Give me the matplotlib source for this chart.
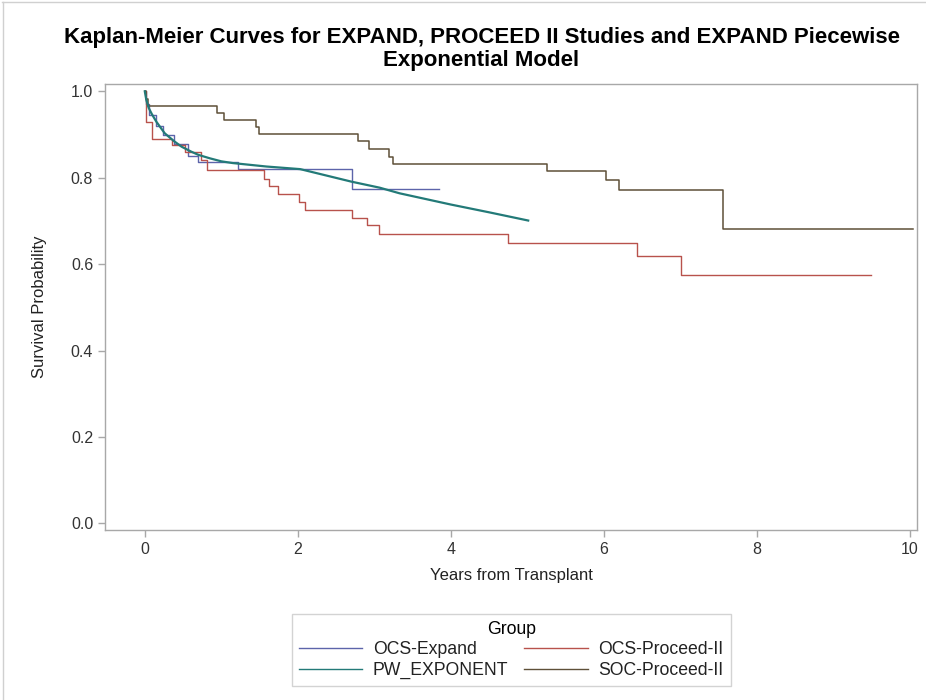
import numpy as np
import matplotlib.pyplot as plt
from matplotlib.lines import Line2D

# Kaplan-Meier step data (time in years, survival after each event)
expand_t = [0, 0.02, 0.06, 0.15, 0.24, 0.38, 0.57, 0.70, 1.22, 2.71]
expand_s = [1.0, 0.97, 0.945, 0.92, 0.90, 0.877, 0.851, 0.836, 0.82, 0.773]
expand_end = 3.85

proceed_t = [0, 0.02, 0.09, 0.36, 0.52, 0.74, 0.81, 1.56, 1.62, 1.74,
             2.01, 2.09, 2.71, 2.90, 3.06, 4.75, 6.43, 7.01]
proceed_s = [1.0, 0.929, 0.89, 0.875, 0.86, 0.84, 0.817, 0.798, 0.78, 0.763,
             0.744, 0.726, 0.708, 0.69, 0.669, 0.649, 0.619, 0.575]
proceed_end = 9.49

soc_t = [0, 0.02, 0.04, 0.94, 1.04, 1.45, 1.49, 2.78, 2.93, 3.19, 3.24,
         5.25, 6.03, 6.20, 7.55]
soc_s = [1.0, 0.983, 0.965, 0.951, 0.934, 0.917, 0.902, 0.884, 0.867, 0.849,
         0.831, 0.815, 0.794, 0.771, 0.682]
soc_end = 10.04

# piecewise exponential fit for EXPAND
pw_t = [0, 0.02, 0.05, 0.09, 0.15, 0.26, 0.38, 0.48, 0.60, 0.70, 0.85, 1.0,
        1.15, 1.59, 2.03, 2.70, 3.07, 3.33, 4.0, 4.5, 5.01]
pw_s = [1.0, 0.98, 0.962, 0.948, 0.93, 0.903, 0.885, 0.872, 0.861, 0.853,
        0.845, 0.838, 0.834, 0.826, 0.82, 0.791, 0.777, 0.764, 0.738, 0.72,
        0.701]

c_exp = '#5c64aa'
c_pro = '#b8524c'
c_pw = '#237a78'
c_soc = '#5e5038'


def km_step(ax, t, s, t_end, **kw):
    t = list(t) + [t_end]
    s = list(s) + [s[-1]]
    return ax.step(t, s, where='post', **kw)


plt.rcParams['font.family'] = ['Liberation Sans', 'DejaVu Sans']

fig = plt.figure(figsize=(9.26, 7.0), dpi=100)
ax = fig.add_axes([0.1134, 0.243, 0.8768, 0.637])

km_step(ax, expand_t, expand_s, expand_end, color=c_exp, lw=1.0)
km_step(ax, proceed_t, proceed_s, proceed_end, color=c_pro, lw=1.0)
km_step(ax, soc_t, soc_s, soc_end, color=c_soc, lw=1.1)
ax.plot(pw_t, pw_s, color=c_pw, lw=1.6)

ax.set_xlim(-0.52, 10.09)
ax.set_ylim(-0.015, 1.017)
ax.set_xticks(np.arange(0, 11, 2))
ax.set_yticks(np.arange(0, 1.01, 0.2))
ax.set_yticklabels(['{0:.1f}'.format(v) for v in np.arange(0, 1.01, 0.2)])

for sp in ax.spines.values():
    sp.set_color('#a8a8a8')
    sp.set_linewidth(1.0)
ax.tick_params(colors='#a8a8a8', labelcolor='#333333', labelsize=11.5,
               length=5, width=1.0)
ax.set_xlabel('Years from Transplant', fontsize=12, color='#222222',
              labelpad=8)
ax.set_ylabel('Survival Probability', fontsize=12, color='#222222',
              labelpad=17)

fig.text(0.52, 0.947, 'Kaplan-Meier Curves for EXPAND, PROCEED II Studies '
         'and EXPAND Piecewise', ha='center', va='center', fontsize=16,
         fontweight='bold')
fig.text(0.52, 0.914, 'Exponential Model', ha='center', va='center',
         fontsize=16, fontweight='bold')

# legend filled column-wise, so order the handles for row-wise reading
handles = [Line2D([], [], color=c_exp, lw=1.0),
           Line2D([], [], color=c_pw, lw=1.0),
           Line2D([], [], color=c_pro, lw=1.0),
           Line2D([], [], color=c_soc, lw=1.0)]
labels = ['OCS-Expand', 'PW_EXPONENT', 'OCS-Proceed-II', 'SOC-Proceed-II']
leg = fig.legend(handles, labels, title='Group', ncol=2,
                 loc='upper center', bbox_to_anchor=(0.552, 0.123),
                 borderaxespad=0, frameon=True, fancybox=False,
                 fontsize=12.7, title_fontsize=12.7, handlelength=3.6,
                 handletextpad=0.6, columnspacing=0.9, labelspacing=0.2,
                 borderpad=0.4)
leg.get_frame().set_edgecolor('#c8c8c8')
leg.get_frame().set_linewidth(1.0)
for txt in leg.get_texts():
    txt.set_color('#222222')

# thin frame lines along the top and left edges of the image
fig.add_artist(Line2D([0.002, 1.0], [0.997, 0.997], color='#d0d0d0',
                      lw=1.0, transform=fig.transFigure))
fig.add_artist(Line2D([0.003, 0.003], [0.0, 0.997], color='#d0d0d0',
                      lw=1.0, transform=fig.transFigure))

fig.savefig('out.png', dpi=100)
